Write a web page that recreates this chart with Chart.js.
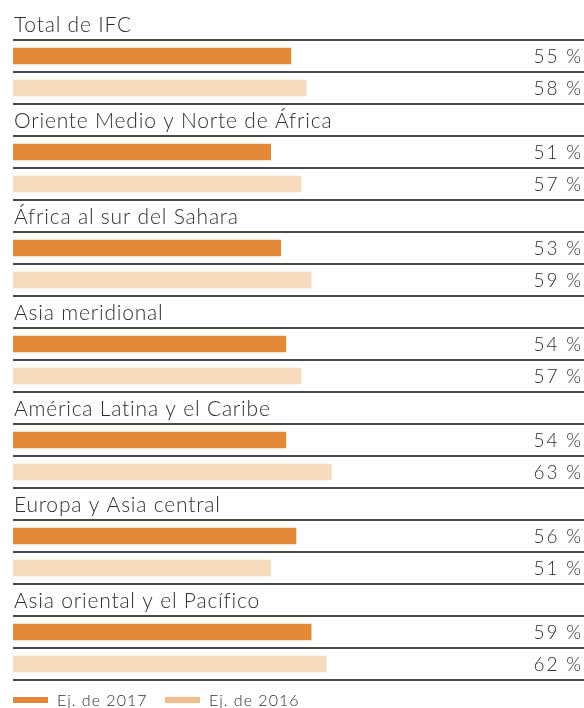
<!DOCTYPE html>
<html>
<head>
<meta charset="utf-8">
<script src="https://cdn.jsdelivr.net/npm/chart.js@4"></script>
<style>
  html, body { margin: 0; padding: 0; background: #fff; }
  #wrap { position: relative; width: 584px; height: 708px; }
</style>
</head>
<body>
<div id="wrap"><canvas id="grafico"></canvas></div>
<script>
// regiones y porcentajes (ej. 2017 / ej. 2016)
const regiones = ['Total de IFC', 'Oriente Medio y Norte de África', 'África al sur del Sahara',
  'Asia meridional', 'América Latina y el Caribe', 'Europa y Asia central', 'Asia oriental y el Pacífico'];
const ej2017 = [55, 51, 53, 54, 54, 56, 59];
const ej2016 = [58, 57, 59, 57, 63, 51, 62];
const series = ['Ej. de 2017', 'Ej. de 2016'];

const cores = {
  naranja: '#E38A3A', claro: '#F6DBBF', claroLeyenda: '#F3BE8D',
  texto: '#2E2E2E', linea: '#4A4A4A'
};
const fuente = 'Lato, "Open Sans", sans-serif';

// cada región ocupa tres filas: título, 2017, 2016
const filas = [], tipo = [], d17 = [], d16 = [];
regiones.forEach((r, i) => {
  filas.push(r); tipo.push('titulo'); d17.push(null); d16.push(null);
  filas.push(r + ' 2017'); tipo.push('a'); d17.push(ej2017[i]); d16.push(null);
  filas.push(r + ' 2016'); tipo.push('b'); d17.push(null); d16.push(ej2016[i]);
});

const textos = {
  id: 'textos',
  afterDatasetsDraw(chart) {
    const { ctx, chartArea: ca, scales: { y } } = chart;
    ctx.save();
    // líneas separadoras
    ctx.strokeStyle = cores.linea;
    ctx.lineWidth = 2;
    filas.forEach((f, i) => {
      if (tipo[i] === 'titulo') return;
      const cy = y.getPixelForValue(i);
      [cy - 16, cy + 16].forEach(yy => {
        ctx.beginPath();
        ctx.moveTo(ca.left, yy);
        ctx.lineTo(ca.right, yy);
        ctx.stroke();
      });
    });
    // títulos y valores
    ctx.fillStyle = cores.texto;
    ctx.textBaseline = 'middle';
    filas.forEach((f, i) => {
      const cy = y.getPixelForValue(i) + 1;
      if (tipo[i] === 'titulo') {
        ctx.font = '300 21px ' + fuente;
        ctx.letterSpacing = '0.8px';
        ctx.textAlign = 'left';
        ctx.fillText(f, ca.left + 1, cy);
      } else {
        const v = tipo[i] === 'a' ? d17[i] : d16[i];
        ctx.font = '300 19px ' + fuente;
        ctx.letterSpacing = '1.8px';
        ctx.textAlign = 'right';
        ctx.fillText(v + ' %', 582.8, cy);
      }
    });
    // leyenda
    const ley = [[13, cores.naranja], [165, cores.claroLeyenda]];
    ctx.font = '300 16px ' + fuente;
    ctx.letterSpacing = '1px';
    ctx.textAlign = 'left';
    ley.forEach(([x, c], k) => {
      ctx.fillStyle = c;
      ctx.fillRect(x, 697, 35, 6);
      ctx.fillStyle = cores.texto;
      ctx.fillText(series[k], x + 44, 701);
    });
    ctx.restore();
  }
};

new Chart(document.getElementById('grafico'), {
  type: 'bar',
  data: {
    labels: filas,
    datasets: [
      { label: series[0], data: d17, backgroundColor: cores.naranja, grouped: false, barThickness: 16 },
      { label: series[1], data: d16, backgroundColor: cores.claro, grouped: false, barThickness: 16 }
    ]
  },
  options: {
    indexAxis: 'y',
    responsive: true,
    maintainAspectRatio: false,
    animation: false,
    layout: { padding: { left: 13, top: 8, bottom: 28, right: 0 } },
    plugins: { legend: { display: false }, tooltip: { enabled: false } },
    scales: {
      x: { display: false, min: 0, max: 113 },
      y: { display: false }
    }
  },
  plugins: [textos]
});
</script>
</body>
</html>
